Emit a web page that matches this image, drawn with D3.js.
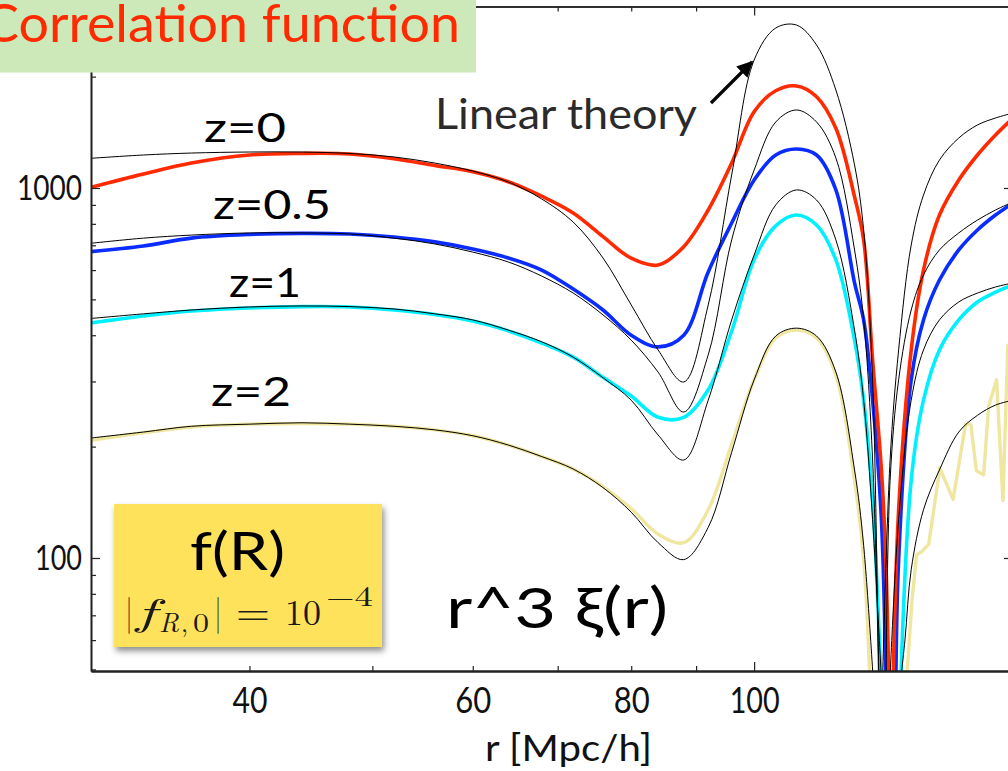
<!DOCTYPE html>
<html><head><meta charset="utf-8">
<script src="https://cdn.jsdelivr.net/npm/d3@7"></script>
<style>
html,body{margin:0;padding:0;background:#fff;overflow:hidden}
svg{display:block}
text{font-family:Lato,"Open Sans",sans-serif}
</style></head><body>
<svg id="chart" width="1008" height="771"></svg>
<script>
// ---------------- data (r in Mpc/h, value = r^3 xi(r)) ----------------
const rMain = [30,33,36,40,44,48,52,56,60,64,68,72,76,80,84,88,92,96,100,104,108,112,116,120,122];

// nonlinear f(R) curves
const redMain   = [1004,1091,1168,1228,1240,1236,1200,1150,1107,1040,950,856,739,646,619,694,872,1168,1608,1832,1887,1765,1450,947,724];
const redTailR  = [124,126,127,127.8];
const redTailV  = [343,173,99,40];
const redRightR = [128.6,130,133,136,140,145,150,155,160];
const redRightV = [40,135,365,600,845,1051,1228,1391,1546];

const blueMain   = [673,697,732,749,754,751,737,715,684,647,600,533,468,400,372,400,593,804,1051,1228,1275,1228,988,554,440];
const blueTailR  = [124,126,127.1];
const blueTailV  = [267,127,40];
const blueRightR = [129.3,130,133,136,140,145,150,155,160];
const blueRightV = [40,99,303,440,564,680,770,845,911];

const cyanMain   = [432,451,465,474,478,477,468,455,437,411,381,349,308,274,240,240,285,410,640,790,845,794,639,388,267];
const cyanTailR  = [124,126.1];
const cyanTailV  = [143,40];
const cyanRightR = [130.3,133,136,140,145,150,155,160];
const cyanRightV = [40,162,267,365,440,492,523,547];

const khakiMain   = [208,218,226,230,231,230,227,222,214,202,188,174,156,136,116,110,135,203,303,393,413,393,312,162,99];
const khakiTailR  = [123.6];
const khakiTailV  = [40];
const khakiRightR = [131.5,133.2,134.3,135.6,137.3,140.1,143.5,146.8,148.2,149.7,151.7,153.1,155.3,157.1,158.5,160];
const khakiRightV = [40,77,102,104,109,175,144,230,230,172,168,258,303,143,376,236];

// linear theory curves
const lin0Main   = [1203,1228,1243,1251,1251,1240,1213,1168,1111,1038,934,809,647,483,365,299,483,1084,2218,2706,2757,2435,1840,1154,770];
const lin0TailR  = [124,125.4];
const lin0TailV  = [303,40];
const lin0RightR = [126.1,128,130,133,136,140,145,150,155,160];
const lin0RightV = [40,184,365,701,957,1190,1365,1480,1546,1595];

const lin05Main   = [709,732,746,756,756,751,732,706,671,631,578,520,454,388,318,248,354,724,1118,1508,1625,1508,1205,680,440];
const lin05TailR  = [124,125.6];
const lin05TailV  = [184,40];
const lin05RightR = [127,128,130,133,136,140,145,150,155,160];
const lin05RightV = [40,162,303,468,582,680,756,819,872,917];

const lin1Main   = [444,457,468,477,480,478,471,457,440,413,384,349,307,267,215,184,267,440,659,900,988,928,724,413,267];
const lin1TailR  = [124,126.3];
const lin1TailV  = [127,40];
const lin1RightR = [127.7,130,133,136,140,145,150,155,160];
const lin1RightV = [40,127,267,365,440,492,520,540,554];

const lin2Main   = [211,219,227,230,232,230,227,222,214,202,188,174,155,133,110,99,121,193,303,398,418,398,318,173,108];
const lin2TailR  = [124.5];
const lin2TailV  = [40];
const lin2RightR = [129.8,131.5,133,136,140,145,150,155,160];
const lin2RightV = [40,60,93,135,173,219,243,259,267];

// axis ticks
const xLabelTicks = [40,60,80,100];
const xMinorTicks = [40,50,60,70,80,90];
const xMajorTicks = [100];
const yLabelTicks = [100,1000];
const yMinorTicks = [50,60,70,80,90,200,300,400,500,600,700,800,900,2000,3000];

// labels
const titleText = "Correlation function";
const xTitle = "r [Mpc/h]";
const zLabels = ["z=0","z=0.5","z=1","z=2"];

// ---------------- drawing ----------------
const svg = d3.select("#chart");
const X0 = 91, X1 = 1013, Y0 = 671, Y1 = 6.5;
const x = d3.scaleLog().domain([30,160]).range([X0,X1]);
const y = d3.scaleLog().domain([49.5,3094]).range([Y0,Y1]);

const defs = svg.append("defs");
defs.append("clipPath").attr("id","plotclip").append("rect")
  .attr("x",X0).attr("y",Y1).attr("width",X1-X0).attr("height",Y0-Y1);
const sh = defs.append("filter").attr("id","shadow").attr("x","-10%").attr("y","-10%").attr("width","130%").attr("height","140%");
sh.append("feDropShadow").attr("dx",2).attr("dy",4).attr("stdDeviation",3).attr("flood-color","#000").attr("flood-opacity",0.45);

function mk(main, tailR, tailV, rightR, rightV){
  const left = rMain.map((r,i)=>[r,main[i]]).concat(tailR.map((r,i)=>[r,tailV[i]]));
  const right = rightR.map((r,i)=>[r,rightV[i]]);
  return [left,right];
}
const series = [
  {c:"#efe6a0", w:3.4, b:mk(khakiMain,khakiTailR,khakiTailV,khakiRightR,khakiRightV), straightRight:true},
  {c:"#00f0ff", w:3.6, b:mk(cyanMain,cyanTailR,cyanTailV,cyanRightR,cyanRightV)},
  {c:"#0a2cff", w:3.6, b:mk(blueMain,blueTailR,blueTailV,blueRightR,blueRightV)},
  {c:"#ff2a00", w:3.6, b:mk(redMain,redTailR,redTailV,redRightR,redRightV)},
  {c:"#000", w:1, b:mk(lin2Main,lin2TailR,lin2TailV,lin2RightR,lin2RightV)},
  {c:"#000", w:1, b:mk(lin1Main,lin1TailR,lin1TailV,lin1RightR,lin1RightV)},
  {c:"#000", w:1, b:mk(lin05Main,lin05TailR,lin05TailV,lin05RightR,lin05RightV)},
  {c:"#000", w:1, b:mk(lin0Main,lin0TailR,lin0TailV,lin0RightR,lin0RightV)},
];
const smooth = d3.line().x(d=>x(d[0])).y(d=>y(d[1])).curve(d3.curveCatmullRom.alpha(0.5));
const straight = d3.line().x(d=>x(d[0])).y(d=>y(d[1])).curve(d3.curveLinear);
const gCurves = svg.append("g").attr("clip-path","url(#plotclip)");
series.forEach(s=>{
  s.b.forEach((br,i)=>{
    const gen = (i===1 && s.straightRight) ? straight : smooth;
    gCurves.append("path").attr("d",gen(br)).attr("fill","none")
      .attr("stroke",s.c).attr("stroke-width",s.w).attr("stroke-linejoin","round");
  });
});

// axes (frame, inward ticks)
const axCol = "#222";
function styleAxis(g, sw){
  g.select(".domain").attr("stroke",axCol).attr("stroke-width",sw);
  g.selectAll(".tick line").attr("stroke",axCol).attr("stroke-width",1.2);
}
const fmt = d3.format("d");
let g;
// bottom
g = svg.append("g").attr("transform",`translate(0,${Y0})`).call(d3.axisBottom(x).tickValues(xMinorTicks).tickSize(-5).tickFormat("").tickSizeOuter(0));
styleAxis(g,2);
g = svg.append("g").attr("transform",`translate(0,${Y0})`).call(d3.axisBottom(x).tickValues(xMajorTicks).tickSize(-9).tickFormat("").tickSizeOuter(0));
styleAxis(g,2);
const xLen = {40:35,60:36,80:36,100:50};
g = svg.append("g").attr("transform",`translate(0,${Y0})`).call(d3.axisBottom(x).tickValues(xLabelTicks).tickSize(0).tickPadding(16).tickFormat(fmt));
g.select(".domain").remove();
g.selectAll("text").attr("font-size",36).attr("fill","#111").style("font-family","Lato")
  .attr("textLength",d=>xLen[d]).attr("lengthAdjust","spacingAndGlyphs");
// top
g = svg.append("g").attr("transform",`translate(0,${Y1})`).call(d3.axisTop(x).tickValues(xMinorTicks).tickSize(-5).tickFormat("").tickSizeOuter(0));
styleAxis(g,1.5);
g = svg.append("g").attr("transform",`translate(0,${Y1})`).call(d3.axisTop(x).tickValues(xMajorTicks).tickSize(-9).tickFormat("").tickSizeOuter(0));
styleAxis(g,1.5);
// left
g = svg.append("g").attr("transform",`translate(${X0},0)`).call(d3.axisLeft(y).tickValues(yMinorTicks).tickSize(-5).tickFormat("").tickSizeOuter(0));
styleAxis(g,1.6);
const yLen = {100:47,1000:65};
g = svg.append("g").attr("transform",`translate(${X0},0)`).call(d3.axisLeft(y).tickValues(yLabelTicks).tickSize(-9).tickPadding(9).tickFormat(fmt).tickSizeOuter(0));
styleAxis(g,1.6);
g.selectAll("text").attr("font-size",35).attr("fill","#111").style("font-family","Lato")
  .attr("textLength",d=>yLen[d]).attr("lengthAdjust","spacingAndGlyphs");
// right
g = svg.append("g").attr("transform",`translate(${X1},0)`).call(d3.axisRight(y).tickValues(yMinorTicks).tickSize(-5).tickFormat("").tickSizeOuter(0));
styleAxis(g,1.6);
g = svg.append("g").attr("transform",`translate(${X1},0)`).call(d3.axisRight(y).tickValues(yLabelTicks).tickSize(-9).tickFormat("").tickSizeOuter(0));
styleAxis(g,1.6);

// x axis title
svg.append("text").attr("x",485).attr("y",761).attr("font-size",37).attr("fill","#111")
  .attr("textLength",167).attr("lengthAdjust","spacingAndGlyphs").text(xTitle);

// title box (text intentionally starts left of the page edge, as in the reference)
svg.append("rect").attr("x",0).attr("y",0).attr("width",476).attr("height",72.5).attr("fill","#cde8b9");
svg.append("text").attr("x",-17).attr("y",41.5).attr("font-size",53).attr("fill","#ff2a00")
  .attr("textLength",477).attr("lengthAdjust","spacingAndGlyphs").text(titleText);

// z labels
const zPos = [[204,141.5,82],[213,219,118],[229,296.5,72],[211,406,80]];
zLabels.forEach((t,i)=>{
  svg.append("text").attr("x",zPos[i][0]).attr("y",zPos[i][1]).attr("font-size",40).attr("fill","#000")
    .attr("textLength",zPos[i][2]).attr("lengthAdjust","spacingAndGlyphs").text(t);
});

// Linear theory annotation
svg.append("text").attr("x",435).attr("y",128.5).attr("font-size",43).attr("fill","#2b2b2b")
  .attr("textLength",262).attr("lengthAdjust","spacingAndGlyphs").text("Linear theory");
defs.append("marker").attr("id","ah").attr("viewBox","0 0 10 10").attr("refX",9).attr("refY",5)
  .attr("markerWidth",5).attr("markerHeight",5).attr("orient","auto")
  .append("path").attr("d","M0,0 L10,5 L0,10 z").attr("fill","#000");
svg.append("line").attr("x1",711).attr("y1",103).attr("x2",752).attr("y2",62)
  .attr("stroke","#000").attr("stroke-width",3.2).attr("marker-end","url(#ah)");

// r^3 xi(r)
svg.append("text").attr("x",446).attr("y",628).attr("font-size",56).attr("fill","#000")
  .attr("textLength",222).attr("lengthAdjust","spacingAndGlyphs").text("r^3 ξ(r)");

// f(R) box
svg.append("rect").attr("x",114).attr("y",504).attr("width",268).attr("height",143)
  .attr("fill","#ffe25c").attr("filter","url(#shadow)");
svg.append("text").attr("x",190).attr("y",570).attr("font-size",53).attr("fill","#000")
  .attr("textLength",95).attr("lengthAdjust","spacingAndGlyphs").text("f(R)");
const serif = "'Latin Modern Roman','DejaVu Serif','Liberation Serif',serif";
function st(xp,yp,size,str,italic,len){
  const t = svg.append("text").attr("x",xp).attr("y",yp).attr("font-size",size).attr("fill","#1a1a1a")
    .style("font-family",serif).style("font-style",italic?"italic":"normal").text(str);
  if(len) t.attr("textLength",len).attr("lengthAdjust","spacingAndGlyphs");
  return t;
}
st(126,625,38,"|",false,6);
st(136,625,38,"f",true,20);
st(159,632,27,"R",true,20);
st(181,632,27,",",false,7);
st(193,632,27,"0",false,16);
st(215,625,38,"|",false,6);
st(236,625,38,"=",false,34);
st(285,625,36,"10",false,36);
st(326,606,28,"−4",false,47);
</script>
</body></html>
